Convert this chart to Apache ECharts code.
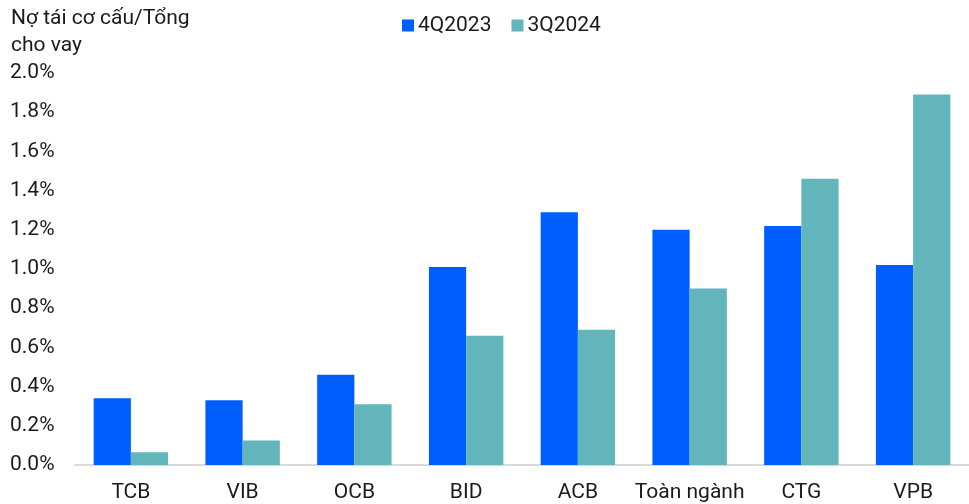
<!DOCTYPE html>
<html>
<head>
<meta charset="utf-8">
<script src="https://cdn.jsdelivr.net/npm/echarts@6/dist/echarts.min.js"></script>
<style>
html,body{margin:0;padding:0;background:#fff;}
#c{width:969px;height:504px;}
</style>
</head>
<body>
<div id="c"></div>
<script>
const categories = ['TCB', 'VIB', 'OCB', 'BID', 'ACB', 'Toàn ngành', 'CTG', 'VPB'];
const q4_2023 = [0.34, 0.33, 0.46, 1.01, 1.29, 1.20, 1.22, 1.02];
const q3_2024 = [0.065, 0.125, 0.31, 0.66, 0.69, 0.90, 1.46, 1.89];
const seriesNames = ['4Q2023', '3Q2024'];
const yTitle = 'Nợ tái cơ cấu/Tổng\ncho vay';

const FONT = 'Roboto, "Noto Sans", sans-serif';
const FS = 21;
const chart = echarts.init(document.getElementById('c'), null, {renderer: 'canvas'});
chart.setOption({
  animation: false,
  backgroundColor: '#fff',
  textStyle: {fontFamily: FONT},
  title: {
    text: yTitle,
    left: 11, top: 5, padding: 0,
    textStyle: {fontSize: FS, fontWeight: 'normal', color: '#1a1a1a', lineHeight: 27, fontFamily: FONT}
  },
  legend: {
    data: seriesNames,
    left: 402, top: 15, padding: 0,
    itemWidth: 12, itemHeight: 12, itemGap: 20,
    icon: 'rect',
    textStyle: {fontSize: FS, color: '#1a1a1a', fontFamily: FONT, padding: [0, 0, 0, -1]}
  },
  grid: {left: 75, right: -6, top: 73, bottom: 39, containLabel: false},
  xAxis: {
    type: 'category',
    data: categories,
    axisLine: {lineStyle: {color: '#d9d9d9', width: 2}},
    axisTick: {show: false},
    axisLabel: {interval: 0, fontSize: FS, color: '#1a1a1a', margin: 17, fontFamily: FONT}
  },
  yAxis: {
    type: 'value',
    min: 0, max: 2.0, interval: 0.2,
    splitLine: {show: false},
    axisLine: {show: false},
    axisTick: {show: false},
    axisLabel: {
      fontSize: FS, color: '#1a1a1a', align: 'left', margin: 65, fontFamily: FONT,
      formatter: v => v.toFixed(1) + '%'
    }
  },
  series: [
    {name: seriesNames[0], type: 'bar', data: q4_2023, barWidth: '33.3%', barGap: '0%',
     itemStyle: {color: '#005EFF'}},
    {name: seriesNames[1], type: 'bar', data: q3_2024, barWidth: '33.3%', barGap: '0%',
     itemStyle: {color: '#62B5BB'}}
  ]
});
</script>
</body>
</html>
